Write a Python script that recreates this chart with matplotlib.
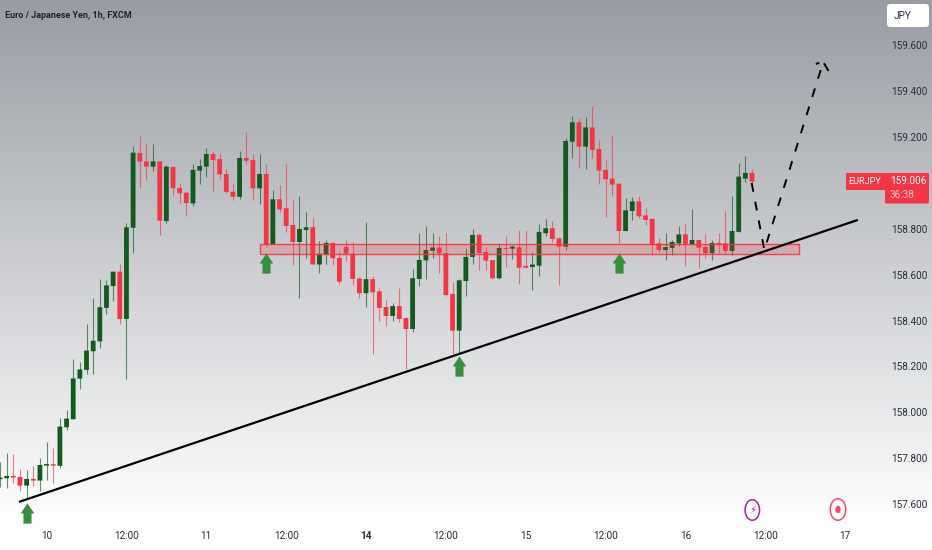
import numpy as np
import matplotlib
matplotlib.use("Agg")
import matplotlib.pyplot as plt
from matplotlib.patches import Rectangle, Ellipse, FancyBboxPatch
from matplotlib.path import Path

opens = [157.709,157.713,157.723,157.719,157.681,157.710,157.703,157.768,157.774,157.767,
         157.935,157.970,158.147,158.185,158.266,158.309,158.455,158.550,158.613,158.407,
         158.804,159.130,159.093,159.070,159.093,158.833,159.069,158.977,158.957,158.910,
         159.053,159.070,159.125,159.103,159.038,158.961,158.939,159.108,159.099,158.976,
         159.038,158.733,158.928,158.889,158.816,158.742,158.794,158.806,158.644,158.687,
         158.738,158.673,158.720,158.691,158.583,158.519,158.580,158.527,158.459,158.420,
         158.463,158.411,158.363,158.581,158.662,158.704,158.718,158.693,158.516,158.356,
         158.572,158.677,158.773,158.699,158.663,158.584,158.716,158.713,158.719,158.638,
         158.633,158.639,158.780,158.802,158.758,158.722,159.179,159.263,159.157,159.241,
         159.147,159.056,159.018,158.996,158.790,158.877,158.919,158.858,158.842,158.736,
         158.707,158.716,158.736,158.775,158.732,158.751,158.720,158.693,158.738,158.736,
         158.703,158.786,159.018,159.043]
highs = [157.785,157.822,157.817,157.752,157.749,157.767,157.800,157.870,157.843,157.974,
         158.010,158.232,158.218,158.385,158.497,158.579,158.577,158.613,158.646,158.823,
         159.160,159.204,159.169,159.169,159.095,159.077,159.070,159.001,158.961,159.080,
         159.102,159.150,159.140,159.128,159.059,159.001,159.140,159.220,159.125,159.125,
         159.082,158.969,158.990,159.082,158.925,158.942,158.874,158.845,158.747,158.751,
         158.744,158.704,158.751,158.741,158.591,158.828,158.594,158.540,158.490,158.475,
         158.540,158.417,158.623,158.783,158.812,158.783,158.768,158.780,158.569,158.583,
         158.715,158.799,158.780,158.722,158.663,158.739,158.768,158.729,158.794,158.794,
         158.700,158.819,158.841,158.833,158.765,159.196,159.291,159.281,159.288,159.336,
         159.186,159.099,159.208,158.996,158.932,158.937,158.942,158.889,158.845,158.758,
         158.780,158.751,158.812,158.819,158.884,158.751,158.775,158.751,158.780,158.877,
         158.942,159.085,159.117,159.060]
lows = [157.676,157.672,157.694,157.659,157.626,157.679,157.659,157.705,157.694,157.756,
        157.923,157.970,158.100,158.167,158.167,158.280,158.428,158.485,158.385,158.144,
        158.696,158.979,159.012,159.053,158.773,158.826,158.945,158.910,158.855,158.899,
        158.995,159.024,158.966,159.015,158.957,158.925,158.931,159.082,158.925,158.907,
        158.719,158.733,158.874,158.787,158.642,158.497,158.671,158.644,158.606,158.646,
        158.642,158.558,158.661,158.555,158.497,158.461,158.253,158.400,158.376,158.398,
        158.392,158.188,158.352,158.551,158.581,158.671,158.606,158.508,158.254,158.254,
        158.508,158.645,158.620,158.620,158.581,158.581,158.635,158.668,158.558,158.630,
        158.533,158.596,158.770,158.743,158.555,158.707,159.109,159.066,159.058,159.109,
        158.993,158.852,158.942,158.739,158.790,158.838,158.845,158.816,158.685,158.700,
        158.664,158.685,158.725,158.637,158.729,158.630,158.671,158.664,158.693,158.693,
        158.685,158.786,159.005,158.997]
closes = [157.716,157.723,157.716,157.681,157.710,157.703,157.771,157.775,157.768,157.938,
          157.973,158.148,158.187,158.269,158.312,158.458,158.553,158.613,158.407,158.806,
          159.131,159.092,159.070,159.093,158.835,159.070,158.976,158.954,158.912,159.056,
          159.073,159.125,159.099,159.037,158.960,158.939,159.108,159.096,158.976,159.038,
          158.729,158.928,158.884,158.812,158.742,158.799,158.806,158.644,158.691,158.738,
          158.671,158.569,158.691,158.581,158.519,158.580,158.523,158.455,158.420,158.463,
          158.407,158.363,158.584,158.664,158.707,158.718,158.693,158.511,158.356,158.575,
          158.677,158.773,158.694,158.661,158.584,158.716,158.712,158.722,158.630,158.630,
          158.644,158.786,158.802,158.755,158.722,159.182,159.263,159.157,159.241,159.143,
          159.053,159.015,158.992,158.790,158.880,158.919,158.854,158.838,158.732,158.707,
          158.720,158.742,158.775,158.733,158.751,158.717,158.693,158.738,158.733,158.703,
          158.790,159.027,159.043,159.005]

price_ticks = [157.6,157.8,158.0,158.2,158.4,158.6,158.8,159.0,159.2,159.4,159.6]
time_pos = [7,19,31,43,55,67,79,91,103,115,127]
time_labels = ["10","12:00","11","12:00","14","12:00","15","12:00","16","12:00","17"]

trend_x = [2.85,128.9]
trend_y = [157.610,158.838]
zone_x = [39.07,120.0]
zone_y = [158.691,158.733]
arrow_x = [4,40,69,93]
arrow_y = [157.562,158.651,158.200,158.651]
proj_x = [112.95,114.85,123.7,124.6]
proj_y = [158.999,158.707,159.526,159.482]
barb_x = [122.6,123.1]
barb_y = [159.517,159.523]

W,H = 932,550
GREEN="#14591f"; RED="#f23645"
TXT="#2a2e39"
plt.rcParams['font.family']=['Roboto','DejaVu Sans']

fig = plt.figure(figsize=(W/100,H/100),dpi=100,facecolor='white')
bg = fig.add_axes([0,0,1,1],zorder=0); bg.axis('off')
grad = np.linspace(0,1,256)
top=np.array([0.60,0.615,0.64]); bot=np.array([1,1,1])
img = top[None,:]*(1-grad)[:,None]+bot[None,:]*grad[:,None]
bg.imshow(img[:,None,:],aspect='auto',extent=[0,W,525,0],interpolation='bilinear')
bg.set_xlim(0,W); bg.set_ylim(H,0)

ax = fig.add_axes([0,(H-525)/H,885/W,525/H],zorder=1)
ax.patch.set_alpha(0)
PPX=6.655; PPY=229.6
ax.set_xlim(0,885/PPX)
ax.set_ylim(159.6-480/PPY,159.6+45/PPY)
for s in ax.spines.values(): s.set_visible(False)

x=np.arange(len(opens))
o=np.array(opens);c=np.array(closes);hi=np.array(highs);lo=np.array(lows)
up=c>=o
cols=[GREEN if u else RED for u in up]
ax.vlines(x,lo,hi,colors=cols,linewidth=0.8,alpha=0.65,zorder=2)
ax.bar(x,np.maximum(np.abs(c-o),0.004),bottom=np.minimum(o,c),width=0.72,color=cols,linewidth=0,zorder=3,snap=False)

ax.add_patch(Rectangle((zone_x[0],zone_y[0]),zone_x[1]-zone_x[0],zone_y[1]-zone_y[0],
             facecolor=RED,alpha=0.22,linewidth=0,zorder=4))
ax.add_patch(Rectangle((zone_x[0],zone_y[0]),zone_x[1]-zone_x[0],zone_y[1]-zone_y[0],
             facecolor='none',edgecolor=RED,linewidth=1.0,alpha=0.9,zorder=4))
ax.plot(trend_x,trend_y,color='black',lw=1.6,zorder=5,solid_capstyle='butt')
ax.plot(proj_x,proj_y,color='black',lw=1.4,zorder=5,dashes=(4.6,5.2),dash_capstyle='butt')
ax.plot(barb_x,barb_y,color='black',lw=1.4,zorder=5,solid_capstyle='butt')

arrow_path=Path([(0,1),(-0.67,0),(-0.4,0),(-0.4,-1),(0.4,-1),(0.4,0),(0.67,0),(0,1)],closed=True)
ax.plot(arrow_x,arrow_y,ls='none',marker=arrow_path,ms=14.6,mfc="#388e3c",mec='none',zorder=6)

ax.yaxis.tick_right()
ax.set_yticks(price_ticks)
ax.set_yticklabels([f"{v:.3f}" if v!=159.0 else "" for v in price_ticks])
ax.set_xticks(time_pos)
ax.set_xticklabels(time_labels)
ax.tick_params(axis='both',length=0,labelsize=7.2,labelcolor=TXT)
ax.tick_params(axis='y',pad=4.4)
ax.tick_params(axis='x',pad=4.4)
for lab,t in zip(ax.get_xticklabels(),time_labels):
    if t=="14": lab.set_fontweight('bold')

ov = fig.add_axes([0,0,1,1],zorder=2); ov.axis('off'); ov.patch.set_alpha(0)
ov.set_xlim(0,W); ov.set_ylim(H,0)
ov.text(5,16,"Euro / Japanese Yen, 1h, FXCM",fontsize=6.5,color="#1f2430",va='center',ha='left',fontweight='bold')
ov.add_patch(FancyBboxPatch((889,6),38,19,boxstyle="round,pad=2,rounding_size=3",fc='white',ec='none'))
ov.text(894,16,"JPY",fontsize=7.2,color=TXT,va='center',ha='left')
ov.add_patch(Rectangle((846,173),38.5,16.5,fc=RED,ec='none'))
ov.add_patch(FancyBboxPatch((885,173),44,30.5,boxstyle="round,pad=0,rounding_size=1",fc=RED,ec='none'))
ov.text(865,181.5,"EURJPY",fontsize=6.6,color='white',va='center',ha='center')
ov.text(890,181.5,"159.006",fontsize=7.2,color='white',va='center',ha='left')
ov.text(890,195,"36:38",fontsize=7.2,color='#ffc4ca',va='center',ha='left')
ov.add_patch(Ellipse((752.3,510),14.5,20.5,fc='none',ec='#9c27b0',lw=1.1))
ov.text(752.3,510,"\u26a1",fontsize=7.5,color='#9c27b0',ha='center',va='center',family='DejaVu Sans')
ov.add_patch(Ellipse((838,509.5),15.5,21.5,fc='none',ec='#f0505f',lw=1.1))
ov.add_patch(Ellipse((838,509.5),5.5,7.5,fc='#f0505f',ec='none'))

fig.savefig("out.png",dpi=100)
